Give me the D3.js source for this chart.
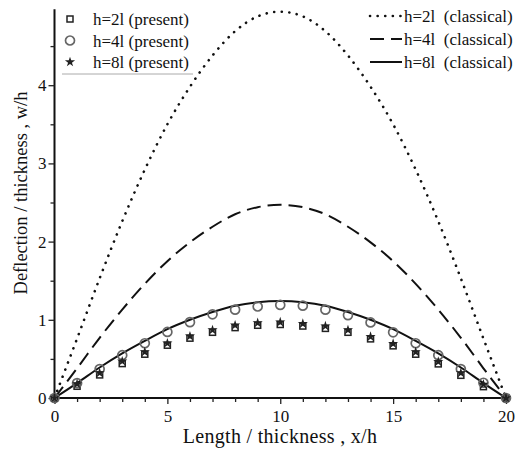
<!DOCTYPE html>
<html>
<head>
<meta charset="UTF-8">
<title>Deflection</title>
<script src="https://cdn.jsdelivr.net/npm/d3@7"></script>
<style>
body { margin: 0; background: #fff; }
svg text { font-family: "Liberation Serif", "DejaVu Serif", serif; fill: #111; }
</style>
</head>
<body>
<script>
var xs = [0,1,2,3,4,5,6,7,8,9,10,11,12,13,14,15,16,17,18,19,20];

// classical solutions (lines)
var classical2 = [0,0.76,1.53,2.26,2.92,3.50,3.98,4.38,4.69,4.88,4.94,4.88,4.69,4.38,3.98,3.50,2.92,2.26,1.53,0.76,0];
var classical4 = [0,0.38,0.77,1.13,1.46,1.75,1.99,2.19,2.35,2.44,2.47,2.44,2.35,2.19,1.99,1.75,1.46,1.13,0.77,0.38,0];
var classical8 = [0,0.19,0.39,0.57,0.73,0.88,1.00,1.10,1.18,1.225,1.24,1.225,1.18,1.10,1.00,0.88,0.73,0.57,0.39,0.19,0];

// present solutions (markers)
var present2 = [0,0.15,0.295,0.44,0.56,0.675,0.765,0.84,0.90,0.93,0.94,0.92,0.89,0.84,0.756,0.667,0.56,0.436,0.29,0.145,0];
var present4 = [0,0.19,0.37,0.547,0.70,0.845,0.97,1.07,1.13,1.17,1.19,1.18,1.13,1.06,0.966,0.84,0.70,0.547,0.37,0.195,0];
var present8 = [0,0.18,0.32,0.47,0.59,0.70,0.79,0.87,0.93,0.96,0.97,0.95,0.92,0.87,0.785,0.695,0.59,0.465,0.32,0.175,0];

var presentLabels = ["h=2l (present)", "h=4l (present)", "h=8l (present)"];
var classicalLabels = ["h=2l  (classical)", "h=4l  (classical)", "h=8l  (classical)"];

var xTicks = [0,5,10,15,20];
var yTicks = [0,1,2,3,4];

var width = 522, height = 450;

var svg = d3.select("body").append("svg")
  .attr("width", width)
  .attr("height", height);

var x = d3.scaleLinear().domain([0, 20]).range([54.5, 506]);
var y = d3.scaleLinear().domain([0, 5]).range([398, 7]);

// axes, left and bottom only
var xAxis = d3.axisBottom(x).tickValues(d3.range(0, 21, 1))
  .tickSize(4).tickFormat(function(d){ return xTicks.indexOf(d) >= 0 ? d : ""; });
var gx = svg.append("g").attr("transform", "translate(0," + y(0) + ")").call(xAxis);
gx.select(".domain").attr("stroke", "#111").attr("stroke-width", 2).attr("d", "M" + x(0) + ",0H" + x(20));
gx.selectAll(".tick line").attr("stroke", "#222").attr("stroke-width", 1.3)
  .attr("y2", function(d){ return d % 5 === 0 ? 6 : 4; });
gx.selectAll(".tick text").attr("font-size", 17).attr("dy", "1.0em");

var yAxis = d3.axisLeft(y).tickValues(d3.range(0, 5, 0.5))
  .tickSize(5).tickFormat(function(d){ return yTicks.indexOf(d) >= 0 ? d : ""; });
var gy = svg.append("g").attr("transform", "translate(" + x(0) + ",0)").call(yAxis);
gy.select(".domain").attr("stroke", "#111").attr("stroke-width", 2).attr("d", "M0," + y(0) + "V" + y(4.97));
gy.selectAll(".tick line").attr("stroke", "#222").attr("stroke-width", 1.3)
  .attr("x2", function(d){ return d % 1 === 0 ? -6 : -4; });
gy.selectAll(".tick text").attr("font-size", 17).attr("x", -8);

// axis titles
svg.append("text")
  .attr("x", 280).attr("y", 443)
  .attr("text-anchor", "middle")
  .attr("font-size", 20)
  .attr("letter-spacing", 0.3)
  .text("Length / thickness , x/h");
svg.append("text")
  .attr("transform", "translate(27,193) rotate(-90)")
  .attr("text-anchor", "middle")
  .attr("font-size", 18.5)
  .text("Deflection / thickness , w/h");

// classical lines
var line = d3.line().curve(d3.curveMonotoneX)
  .x(function(d){ return x(d[0]); })
  .y(function(d){ return y(d[1]); });
var lineStyles = [
  {dash: "0.1,7.5", width: 2.6, cap: "round"},
  {dash: "14,7", width: 2, cap: "butt"},
  {dash: null, width: 2, cap: "butt"}
];
[classical2, classical4, classical8].forEach(function(vals, i){
  svg.append("path")
    .datum(xs.map(function(v, j){ return [v, vals[j]]; }))
    .attr("d", line)
    .attr("fill", "none")
    .attr("stroke", "#111")
    .attr("stroke-width", lineStyles[i].width)
    .attr("stroke-linecap", lineStyles[i].cap)
    .attr("stroke-dasharray", lineStyles[i].dash);
});

// marker drawing
var markers = {
  square: function(g){
    g.append("rect").attr("x", -3).attr("y", -3).attr("width", 6).attr("height", 6)
      .attr("fill", "#fff").attr("stroke", "#222").attr("stroke-width", 1.5);
  },
  circle: function(g){
    g.append("circle").attr("r", 4.5)
      .attr("fill", "none").attr("stroke", "#666").attr("stroke-width", 1.7);
  },
  star: function(g){
    g.append("path").attr("d", d3.symbol().type(d3.symbolStar).size(32)())
      .attr("fill", "#222");
  }
};
var markerTypes = ["square", "circle", "star"];

[present2, present4, present8].forEach(function(vals, i){
  svg.append("g").selectAll("g")
    .data(xs.map(function(v, j){ return [v, vals[j]]; }))
    .join("g")
    .attr("transform", function(d){ return "translate(" + x(d[0]) + "," + y(d[1]) + ")"; })
    .each(function(){ markers[markerTypes[i]](d3.select(this)); });
});

// left legend (present)
var legL = svg.append("g");
presentLabels.forEach(function(label, i){
  var cy = 19 + i * 21.5;
  var g = legL.append("g").attr("transform", "translate(70," + cy + ")");
  markers[markerTypes[i]](g);
  legL.append("text").attr("x", 93).attr("y", cy + 6).attr("font-size", 17)
    .text(label);
});
legL.append("line")
  .attr("x1", 62).attr("x2", 193).attr("y1", 74).attr("y2", 74)
  .attr("stroke", "#aaa").attr("stroke-width", 1);

// right legend (classical)
var legR = svg.append("g");
classicalLabels.forEach(function(label, i){
  var cy = 16 + i * 23;
  legR.append("line")
    .attr("x1", 370).attr("x2", 402).attr("y1", cy).attr("y2", cy)
    .attr("stroke", "#111")
    .attr("stroke-width", lineStyles[i].width)
    .attr("stroke-linecap", lineStyles[i].cap)
    .attr("stroke-dasharray", lineStyles[i].dash);
  legR.append("text").attr("x", 404).attr("y", cy + 6).attr("font-size", 17)
    .style("white-space", "pre").text(label);
});
</script>
</body>
</html>
